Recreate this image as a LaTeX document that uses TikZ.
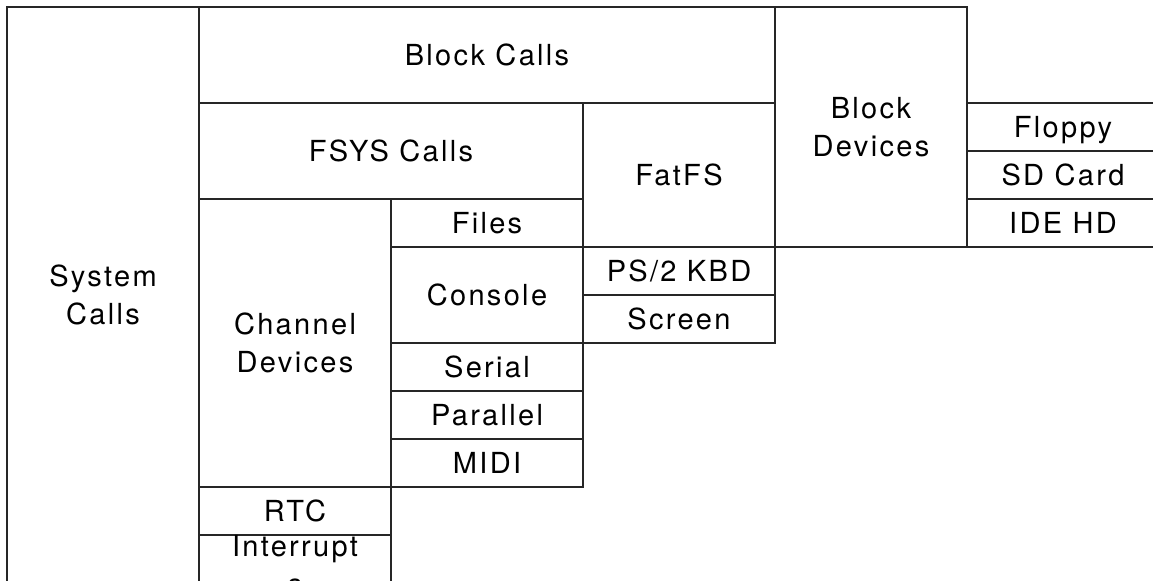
\documentclass[tikz,border=0pt]{standalone}
\usepackage{fontspec}
\setmainfont{TeX Gyre Heros}[LetterSpace=8]
\usetikzlibrary{positioning}
\tikzset{
  layer/.style= {
    rectangle,
    draw = black!85,
    line width = 0.6pt,
    inner sep = 0pt,
    outer sep = 0pt,
    align = center,
    anchor = north west,
    font = \fontsize{14.5}{19}\selectfont
  },
  oneline/.style= {
    text height = 10.4pt,
    text depth = 0pt
  },
  cols/.style= {minimum width=#1*96pt},
  rows/.style= {minimum height=#1*24pt}
}
\begin{document}
\begin{tikzpicture}

  \path[use as bounding box, clip] (0,0) rectangle (576.5pt,-290.5pt);

  % system calls and the call layers
  \node[layer,cols=1,rows=12] (syscalls) at (3.5pt,-3.5pt) {System\\Calls};
  \node[layer,oneline,cols=3,rows=2] (blockcalls) at (syscalls.north east) {Block Calls};
  \node[layer,oneline,cols=2,rows=2] (fsyscalls) at (blockcalls.south west) {FSYS Calls};
  \node[layer,oneline,cols=1,rows=3] (fatfs) at (fsyscalls.north east) {FatFS};

  % block devices
  \node[layer,cols=1,rows=5] (blockdev) at (blockcalls.north east) {Block\\Devices};
  \node[layer,oneline,cols=1,rows=1] (floppy) at (blockdev.north east |- blockcalls.south) {Floppy};
  \node[layer,oneline,cols=1,rows=1] (sdcard) at (floppy.south west) {SD Card};
  \node[layer,oneline,cols=1,rows=1] (idehd) at (sdcard.south west) {IDE HD};

  % channel devices
  \node[layer,cols=1,rows=6] (chandev) at (fsyscalls.south west) {Channel\\Devices};
  \node[layer,oneline,cols=1,rows=1] (files) at (chandev.north east) {Files};
  \node[layer,oneline,cols=1,rows=2] (console) at (files.south west) {Console};
  \node[layer,oneline,cols=1,rows=1] (ps2kbd) at (console.north east) {PS/2 KBD};
  \node[layer,oneline,cols=1,rows=1] (screen) at (ps2kbd.south west) {Screen};
  \node[layer,oneline,cols=1,rows=1] (serial) at (console.south west) {Serial};
  \node[layer,oneline,cols=1,rows=1] (parallel) at (serial.south west) {Parallel};
  \node[layer,oneline,cols=1,rows=1] (midi) at (parallel.south west) {MIDI};

  % other services
  \node[layer,oneline,cols=1,rows=1] (rtc) at (chandev.south west) {RTC};
  \node[layer,cols=1,rows=1] (interrupts) at (rtc.south west) {Interrupt\\s};

\end{tikzpicture}
\end{document}
